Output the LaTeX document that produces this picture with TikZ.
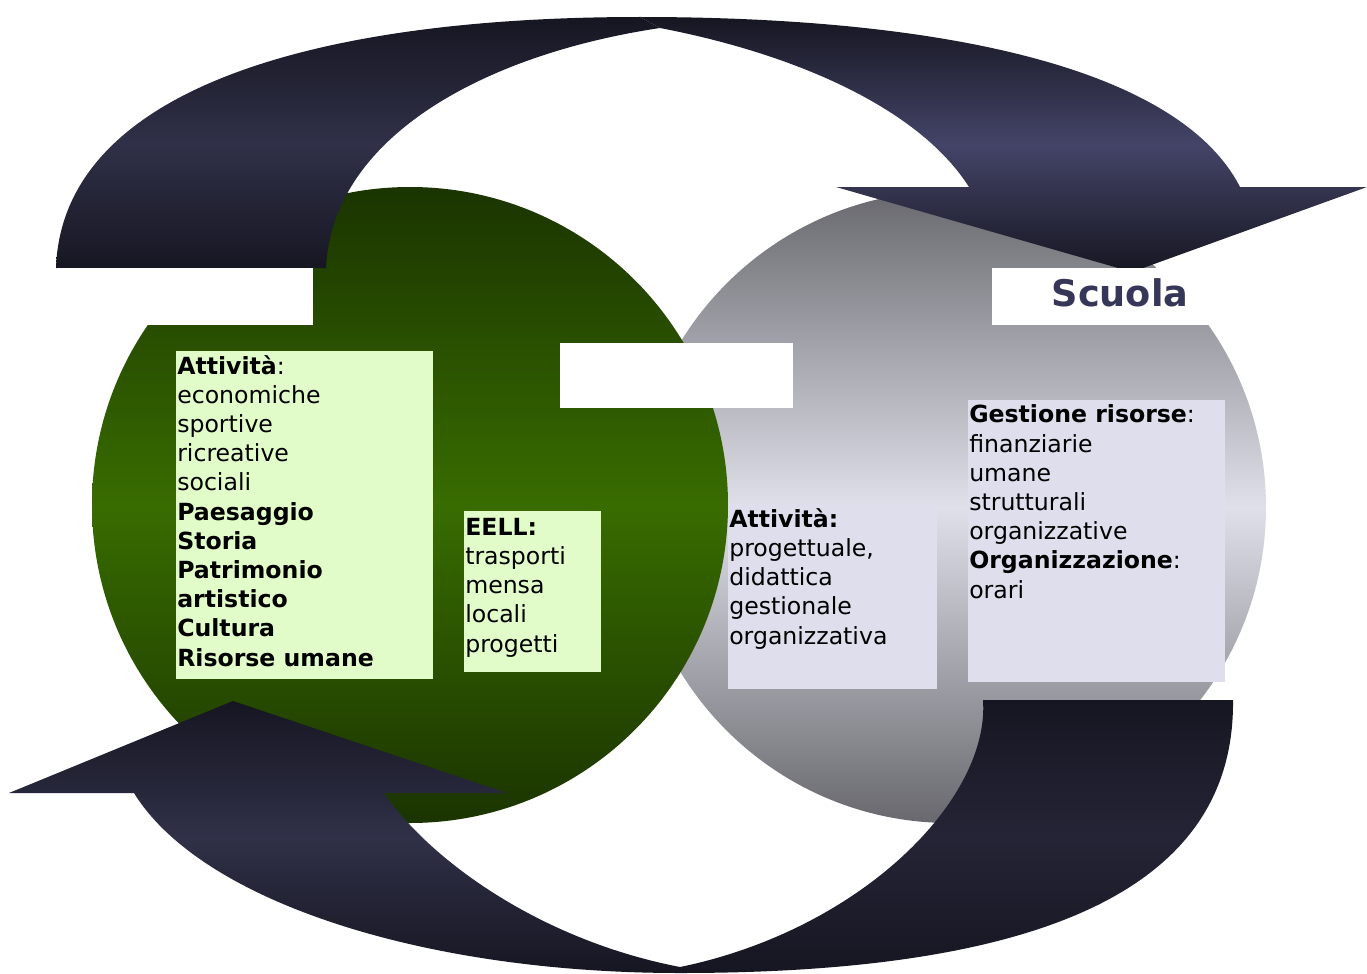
\documentclass[tikz,border=0pt]{standalone}
\usepackage{fontspec}
\setmainfont{DejaVu Sans}
\usetikzlibrary{positioning}
\definecolor{greenDark}{RGB}{27,52,0}
\definecolor{greenLight}{RGB}{56,108,0}
\definecolor{greyDark}{RGB}{104,104,110}
\definecolor{greyLight}{RGB}{224,224,234}
\definecolor{bandDark}{RGB}{22,22,34}
\definecolor{bandLeft}{RGB}{48,48,72}
\definecolor{bandRight}{RGB}{68,68,104}
\definecolor{bandLow}{RGB}{36,36,54}
\definecolor{paleGreen}{RGB}{225,252,200}
\definecolor{paleLilac}{RGB}{222,222,236}
\definecolor{scuolaBlue}{RGB}{54,54,88}

\begin{document}
\begin{tikzpicture}[x=0.75pt, y=-0.75pt, every node/.style={font=\fontsize{17.7pt}{21.9pt}\selectfont, inner sep=0pt},
	txt/.style={anchor=base west, align=left},
	band/.style={top color=bandDark, bottom color=bandDark, middle color=#1}]
	\useasboundingbox (0,0) rectangle (1367,974);
	\shade[top color=greyDark, bottom color=greyDark, middle color=greyLight] (950,507) circle (237pt);
	\shade[top color=greenDark, bottom color=greenDark, middle color=greenLight] (410,505) circle (238.5pt);
	\shade[band=bandLeft] (56,268) .. controls (62,95) and (300,17) .. (640,17) -- (660,28) .. controls (480,55) and (330,140) .. (326,270) -- (326,268) -- cycle;
	\shade[band=bandRight] (640,17) .. controls (950,17) and (1180,70) .. (1240,187) -- (1367,187) -- (1132,272) -- (836,187) -- (969,187) .. controls (920,110) and (800,55) .. (660,28) -- cycle;
	\shade[band=bandLow] (1233,700) .. controls (1235,880) and (1060,973) .. (680,973) -- (680,967) .. controls (860,930) and (990,800) .. (983,700) -- cycle;
	\shade[band=bandLeft] (680,973) .. controls (420,973) and (200,900) .. (134,793) -- (9,793) -- (233,701) -- (507,793) -- (384,793) .. controls (430,860) and (540,940) .. (680,967) -- cycle;
	\fill[white] (57,268) rectangle (313,325);
	\fill[white] (560,343) rectangle (793,408);
	\fill[white] (992,268) rectangle (1210,325);
	\node[font=\fontsize{27.5pt}{30pt}\selectfont\bfseries, text=scuolaBlue] (scuola) at (1120,293) {Scuola};
	\fill[paleGreen] (176,351) rectangle (433,679);
	\fill[paleGreen] (464,511) rectangle (601,672);
	\fill[paleLilac] (728,504) rectangle (937,689);
	\fill[paleLilac] (968,400) rectangle (1225,682);
	\node[txt] (territorio) at (177,666) {\textbf{Attività}:\\economiche\\sportive\\ricreative\\sociali\\\textbf{Paesaggio}\\\textbf{Storia}\\\textbf{Patrimonio}\\\textbf{artistico}\\\textbf{Cultura}\\\textbf{Risorse umane}};
	\node[txt] (eell) at (465,652) {\textbf{EELL:}\\trasporti\\mensa\\locali\\progetti};
	\node[txt] (attscuola) at (729,644) {\textbf{Attività:}\\progettuale,\\didattica\\gestionale\\organizzativa};
	\node[txt] (gestione) at (969,598) {\textbf{Gestione risorse}:\\finanziarie\\umane\\strutturali\\organizzative\\\textbf{Organizzazione}:\\orari};
\end{tikzpicture}
\end{document}
